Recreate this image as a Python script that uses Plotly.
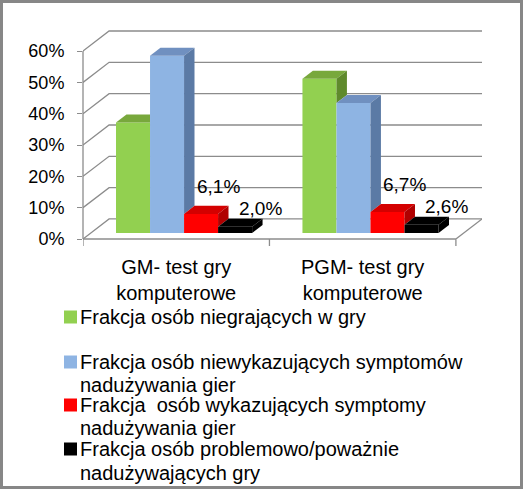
import plotly.graph_objects as go

# dane (%)
categories = ["GM- test gry<br>komputerowe", "PGM- test gry<br>komputerowe"]
series_names = [
    ["Frakcja osób niegrających w gry"],
    ["Frakcja osób niewykazujących symptomów", "nadużywania gier"],
    ["Frakcja  osób wykazujących symptomy", "nadużywania gier"],
    ["Frakcja osób problemowo/poważnie", "nadużywających gry"],
]
niegrajacy = [35.3, 49.2]
bez_symptomow = [56.6, 41.5]
z_symptomami = [6.1, 6.7]
problemowi = [2.0, 2.6]
y_ticks = [0, 10, 20, 30, 40, 50, 60]

series = [niegrajacy, bez_symptomow, z_symptomami, problemowi]
# front, top, side
colors = [
    ("#92D050", "#78A83C", "#5F8A2C"),
    ("#8EB4E3", "#7090C0", "#5B7AA5"),
    ("#FF0000", "#D40000", "#B00000"),
    ("#000000", "#000000", "#000000"),
]
labelled = {2: (7, 19), 3: (15, 10)}  # series -> (xshift, yshift) of the value label

W, H = 523, 489
L, R, T, B = 83, 41, 26, 250
PW, PH = W - L - R, H - T - B

# pseudo-3D geometry (depth of the floor in data units)
DX, DY = 0.14, 6.4
t0, depth = 0.3, 0.4  # bar front plane and bar depth as fraction of floor depth
bargap = 0.27
bw = (1 - bargap) / len(series)
dx, dy = depth * DX, depth * DY
base = t0 * DY
slope = dy / dx

FONT = "Liberation Sans, Arial, sans-serif"
GRID = "#8C8C8C"


def px(xp, yp):
    return (xp - L) / PW, (H - B - yp) / PH


fig = go.Figure()
xs = [i + t0 * DX for i in range(len(categories))]

for k, vals in enumerate(series):
    fig.add_trace(go.Bar(x=xs, y=vals, base=base, name=series_names[k][0],
                         marker=dict(color=colors[k][0], line=dict(width=0)),
                         showlegend=False, hoverinfo="skip"))

# top and side faces, clipped by the neighbour on the right
for k, vals in enumerate(series):
    for c, v in enumerate(vals):
        x0 = xs[c] - (1 - bargap) / 2 + k * bw
        x1 = x0 + bw
        yt = base + v
        yn = base + series[k + 1][c] if k + 1 < len(series) else base
        if yn > yt:
            yc = min(yn, yt + dy)
            e = (yt + dy - yc) / slope
            top = [(x0, yt), (x1, yt), (x1, yc), (x1 + e, yt + dy), (x0 + dx, yt + dy)]
        else:
            top = [(x0, yt), (x1, yt), (x1 + dx, yt + dy), (x0 + dx, yt + dy)]
        fig.add_trace(go.Scatter(x=[p[0] for p in top] + [top[0][0]],
                                 y=[p[1] for p in top] + [top[0][1]],
                                 fill="toself", fillcolor=colors[k][1], mode="lines",
                                 line=dict(width=0), showlegend=False, hoverinfo="skip"))
        lo = max(base, yn)
        if yt > lo:
            side = [(x1, lo), (x1, yt), (x1 + dx, yt + dy), (x1 + dx, lo + dy)]
            fig.add_trace(go.Scatter(x=[p[0] for p in side] + [side[0][0]],
                                     y=[p[1] for p in side] + [side[0][1]],
                                     fill="toself", fillcolor=colors[k][2], mode="lines",
                                     line=dict(width=0), showlegend=False, hoverinfo="skip"))
        if k in labelled:
            xs_, ys_ = labelled[k]
            fig.add_annotation(x=x0 + bw / 2 + dx, y=yt + dy, xref="x", yref="y",
                               text=f"{v:.1f}".replace(".", ",") + "%", showarrow=False,
                               xshift=xs_, yshift=ys_,
                               font=dict(size=19, color="black", family=FONT))

shapes = []
xl, xr = -0.5, len(categories) - 0.5
for t in y_ticks:
    shapes.append(dict(type="path", xref="x", yref="y", layer="below",
                       path=f"M{xl},{t} L{xl + DX},{t + DY} L{xr + DX},{t + DY}",
                       line=dict(color=GRID, width=1.3)))
# floor edges
shapes.append(dict(type="line", xref="x", yref="paper", x0=xl, x1=xr, y0=0, y1=0,
                   layer="below", line=dict(color=GRID, width=1.3)))
shapes.append(dict(type="line", xref="x", yref="y", x0=xr, x1=xr + DX, y0=0, y1=DY,
                   layer="below", line=dict(color=GRID, width=1.3)))
for b in [xl + i for i in range(len(categories) + 1)]:
    shapes.append(dict(type="line", xref="x", yref="paper", x0=b, x1=b, y0=0, y1=-7 / PH,
                       line=dict(color=GRID, width=1.3)))
# front value axis
shapes.append(dict(type="line", xref="paper", yref="y", x0=0, x1=0, y0=0, y1=max(y_ticks),
                   line=dict(color=GRID, width=1.3)))

# legend drawn by hand, one annotation per text line
legend_rows = [[317], [362, 385], [405, 428], [449, 473]]
for k, rows in enumerate(legend_rows):
    a0, b0 = px(64, rows[0] - 6.5)
    a1, b1 = px(77, rows[0] + 6.5)
    shapes.append(dict(type="rect", xref="paper", yref="paper", x0=a0, x1=a1, y0=b1, y1=b0,
                       fillcolor=colors[k][0], line=dict(width=0)))
    for line_text, yrow in zip(series_names[k], rows):
        ax_, ay_ = px(79, yrow)
        fig.add_annotation(x=ax_, y=ay_, xref="paper", yref="paper", text=line_text,
                           showarrow=False, xanchor="left", yanchor="middle", borderpad=0,
                           font=dict(size=20, color="black", family=FONT))

# outer frame
f0 = px(1.5, H - 1.5)
f1 = px(W - 1.5, 1.5)
shapes.append(dict(type="rect", xref="paper", yref="paper", x0=f0[0], x1=f1[0],
                   y0=f0[1], y1=f1[1], line=dict(color="#878787", width=3)))

fig.update_layout(
    width=W, height=H,
    margin=dict(l=L, r=R, t=T, b=B),
    paper_bgcolor="white", plot_bgcolor="white",
    barmode="group", bargap=bargap, bargroupgap=0,
    font=dict(family=FONT, color="black"),
    shapes=shapes,
    xaxis=dict(range=[xl, xr + DX], tickvals=list(range(len(categories))), ticktext=categories,
               showgrid=False, zeroline=False, showline=False, ticks="",
               tickfont=dict(size=20), ticklabelstandoff=14, fixedrange=True),
    yaxis=dict(range=[0, 68], tickvals=y_ticks, ticktext=[f"{t}%" for t in y_ticks],
               showgrid=False, zeroline=False, showline=False, ticks="outside", ticklen=5,
               tickcolor=GRID, tickwidth=1.3, tickfont=dict(size=18), ticklabelstandoff=9,
               fixedrange=True),
)

fig.write_html("out.html", config={"displayModeBar": False},
               post_script="document.body.style.margin='0';document.body.style.overflow='hidden';")
